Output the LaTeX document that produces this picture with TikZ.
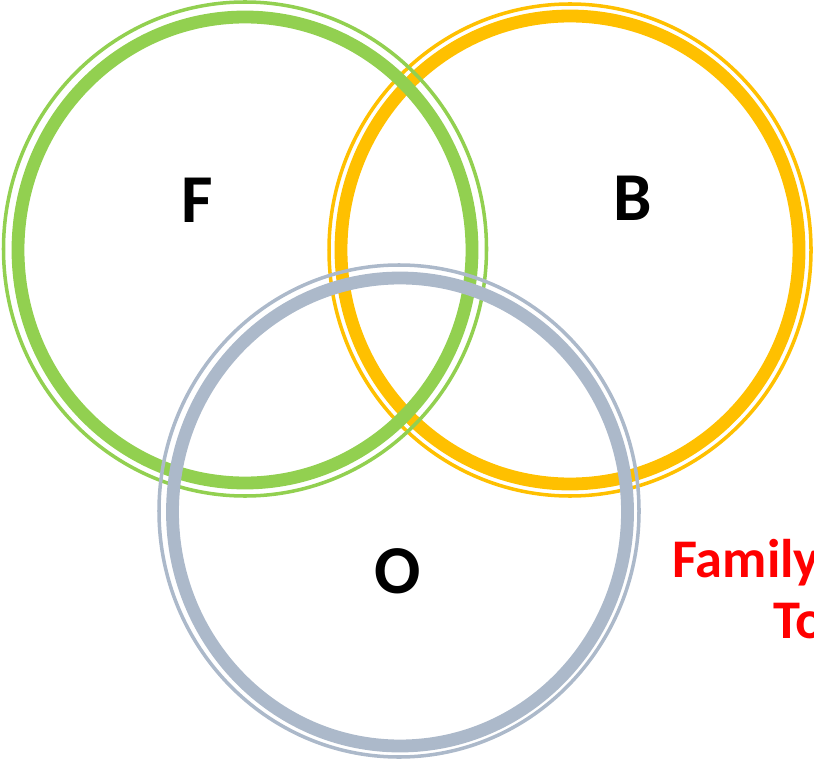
\documentclass[tikz,border=0pt]{standalone}
\usepackage{fontspec}
\setmainfont{Carlito}
\usetikzlibrary{positioning}
\definecolor{famgreen}{RGB}{146,208,80}
\definecolor{famgold}{RGB}{255,192,0}
\definecolor{famgrey}{RGB}{172,185,202}
\definecolor{famred}{RGB}{255,0,0}
\tikzset{
  band/.style={line width=7.3pt},
  rim/.style={line width=2pt},
  letter/.style={font=\fontsize{39}{39}\selectfont\bfseries, inner sep=0pt},
  note/.style={font=\fontsize{31}{31}\selectfont\bfseries, text=famred, inner sep=0pt},
}

\begin{document}
\begin{tikzpicture}[x=0.02cm,y=-0.02cm]
  \useasboundingbox (0,0) rectangle (814,763);
  \clip (0,0) rectangle (814,763);
  % B ring, at the back
  \draw[band,famgold] (570,250) ellipse [x radius=229, y radius=234];
  \draw[rim,famgold] (570,250) ellipse [x radius=241, y radius=246];
  % F ring
  \draw[band,famgreen] (245,250) ellipse [x radius=227, y radius=233];
  \draw[rim,famgreen] (245,249) ellipse [x radius=241.5, y radius=247];
  % O ring, in front
  \draw[band,famgrey] (400,512) ellipse [x radius=227.5, y radius=234];
  \draw[rim,famgrey] (399,511) ellipse [x radius=240, y radius=246];
  % labels
  \node[letter] (f) at (197,200) {F};
  \node[letter] (b) at (633,198) {B};
  \node[letter] (o) at (398,571) {O};
  \node[note,anchor=base west] (family) at (672,577) {Family};
  \node[note,anchor=base west] (to) at (773,638) {To};
\end{tikzpicture}
\end{document}
